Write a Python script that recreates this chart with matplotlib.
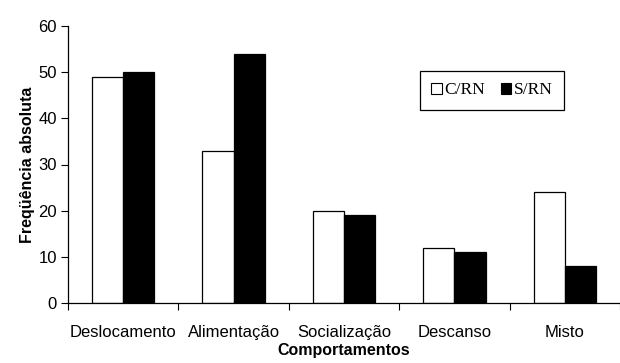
import matplotlib
matplotlib.use("Agg")
import matplotlib.pyplot as plt
import numpy as np
from matplotlib.patches import Patch

categorias = ["Deslocamento", "Alimentação", "Socialização", "Descanso", "Misto"]
c_rn = [49, 33, 20, 12, 24]
s_rn = [50, 54, 19, 11, 8]

plt.rcParams["font.family"] = ["Liberation Sans", "DejaVu Sans"]

fig = plt.figure(figsize=(6.2, 3.63), dpi=100)
ax = fig.add_axes([68 / 620, 60 / 363, 552 / 620, 277 / 363])

x = np.arange(len(categorias))
w = 0.283
ax.bar(x - w / 2, c_rn, w, color="white", edgecolor="black", linewidth=0.9)
ax.bar(x + w / 2, s_rn, w, color="black", edgecolor="black", linewidth=0.9)

ax.set_xlim(-0.5, 4.36)
ax.set_ylim(0, 60)
ax.set_yticks(range(0, 61, 10))
ax.set_xticks(np.arange(-0.5, 4.6, 1.0))
ax.set_xticklabels([])
ax.set_xticks(x, minor=True)
ax.set_xticklabels(categorias, minor=True, fontsize=12)
ax.tick_params(axis="x", which="minor", length=0, pad=16)
ax.tick_params(axis="x", which="major", length=5, direction="out")
ax.tick_params(axis="y", length=5, direction="out", labelsize=12, pad=3)

for s in ["top", "right"]:
    ax.spines[s].set_visible(False)
ax.spines["left"].set_linewidth(0.9)
ax.spines["bottom"].set_linewidth(0.9)

ax.set_ylabel("Freqüência absoluta", fontweight="bold", fontsize=11.5, labelpad=2)
ax.set_xlabel("Comportamentos", fontweight="bold", fontsize=11.5, labelpad=2)

handles = [Patch(facecolor="white", edgecolor="black", linewidth=0.8),
           Patch(facecolor="black", edgecolor="black", linewidth=0.8)]
leg = ax.legend(handles, ["C/RN", "S/RN"], ncol=2, loc="upper left",
                bbox_to_anchor=((420 - 68) / 552, (303 - 71) / 277),
                borderaxespad=0, fancybox=False, framealpha=1, edgecolor="black",
                prop={"family": "Liberation Serif", "size": 12.5},
                handlelength=0.6, handleheight=0.6, handletextpad=0.15,
                columnspacing=0.9, borderpad=0.65)
leg.get_frame().set_linewidth(0.9)

fig.savefig("out.png", dpi=100)
